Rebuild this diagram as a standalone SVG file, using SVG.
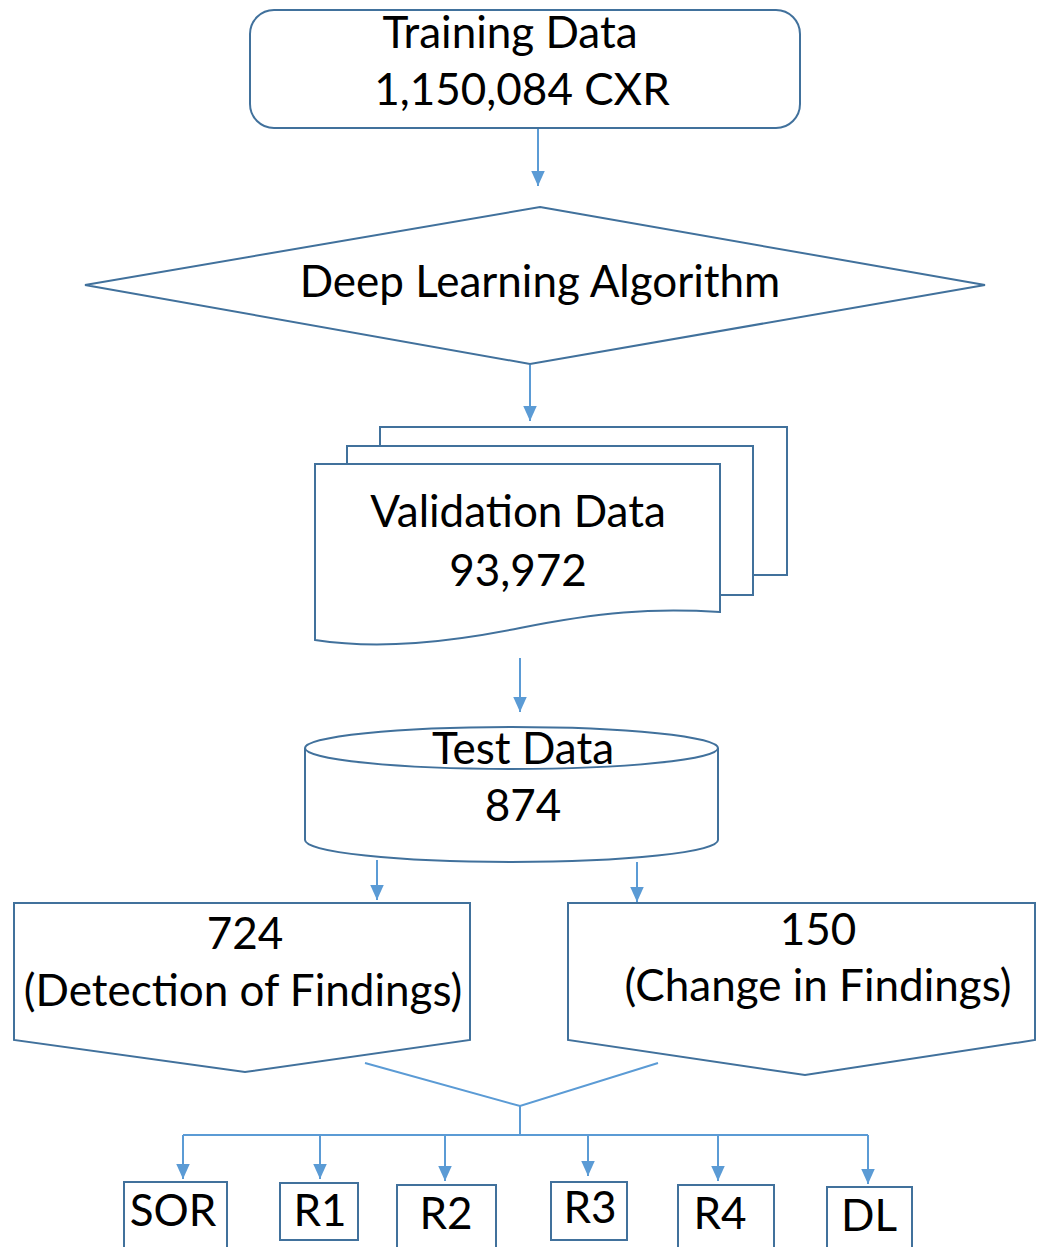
<svg xmlns="http://www.w3.org/2000/svg" width="1051" height="1247" viewBox="0 0 1051 1247">
<defs>
<style>
.shape{fill:#ffffff;stroke:#41719c;stroke-width:2}
.t{font-family:Lato,"Open Sans","Liberation Sans",sans-serif;font-size:44px;fill:#000;text-anchor:middle}
.c{fill:none;stroke:#5b9bd5;stroke-width:2}
</style>
<marker id="ah2" viewBox="0 0 10 10" refX="10" refY="5" markerWidth="15" markerHeight="15" markerUnits="userSpaceOnUse" orient="auto">
<path d="M0,0.5 L10,5 L0,9.5 z" fill="#5b9bd5"/>
</marker>
</defs>
<rect width="1051" height="1247" fill="#ffffff"/>
<g id="training">
<rect class="shape" x="250" y="10" width="550" height="118" rx="24"/>
<text class="t" x="510" y="48">Training Data</text>
<text class="t" x="522" y="105">1,150,084  CXR</text>
</g>
<g id="algorithm">
<polygon class="shape" points="540,207 985,285 530,364 85,285"/>
<text class="t" x="540" y="297">Deep Learning Algorithm</text>
</g>
<g id="validation">
<path class="shape" d="M380,427 H787 V575 H753 V446 H380 Z"/>
<path class="shape" d="M347,446 H753 V595 H720 V464 H347 Z"/>
<path class="shape" d="M315,464 H720 V612 C650,608 600,612 520,628 C450,642 380,650 315,640 Z"/>
<text class="t" x="518" y="527">Validation Data</text>
<text class="t" x="518" y="586">93,972</text>
</g>
<g id="test">
<path class="shape" d="M305,748 V840 A206.5,22 0 0 0 718,840 V748"/>
<ellipse class="shape" cx="511.5" cy="748" rx="206.5" ry="21"/>
<text class="t" x="523" y="764">Test Data</text>
<text class="t" x="523" y="821">874</text>
</g>
<g id="detection">
<polygon class="shape" points="14,903 470,903 470,1040 245,1072 14,1040"/>
<text class="t" x="245" y="949">724</text>
<text class="t" x="243" y="1006">(Detection of Findings)</text>
</g>
<g id="change">
<polygon class="shape" points="568,903 1035,903 1035,1040 805,1075 568,1040"/>
<text class="t" x="818" y="945">150</text>
<text class="t" x="818" y="1001">(Change in Findings)</text>
</g>
<g id="sor"><rect class="shape" x="124" y="1182" width="103" height="70"/><text class="t" x="173" y="1226">SOR</text></g>
<g id="r1"><rect class="shape" x="280" y="1183" width="78" height="57"/><text class="t" x="320" y="1226">R1</text></g>
<g id="r2"><rect class="shape" x="397" y="1185" width="99" height="70"/><text class="t" x="446" y="1229">R2</text></g>
<g id="r3"><rect class="shape" x="551" y="1182" width="76" height="58"/><text class="t" x="590" y="1223">R3</text></g>
<g id="r4"><rect class="shape" x="678" y="1185" width="96" height="70"/><text class="t" x="720" y="1229">R4</text></g>
<g id="dl"><rect class="shape" x="827" y="1187" width="85" height="70"/><text class="t" x="869" y="1231">DL</text></g>
<g id="connectors">
<line class="c" x1="538" y1="129" x2="538" y2="186" marker-end="url(#ah2)"/>
<line class="c" x1="530" y1="365" x2="530" y2="421" marker-end="url(#ah2)"/>
<line class="c" x1="520" y1="658" x2="520" y2="712" marker-end="url(#ah2)"/>
<line class="c" x1="377" y1="860" x2="377" y2="900" marker-end="url(#ah2)"/>
<line class="c" x1="637" y1="862" x2="637" y2="902" marker-end="url(#ah2)"/>
<polyline class="c" points="365,1063 520,1106 658,1063"/>
<line class="c" x1="520" y1="1106" x2="520" y2="1135"/>
<line class="c" x1="183" y1="1135" x2="868" y2="1135"/>
<line class="c" x1="183" y1="1135" x2="183" y2="1179" marker-end="url(#ah2)"/>
<line class="c" x1="320" y1="1135" x2="320" y2="1179" marker-end="url(#ah2)"/>
<line class="c" x1="445" y1="1135" x2="445" y2="1181" marker-end="url(#ah2)"/>
<line class="c" x1="588" y1="1135" x2="588" y2="1176" marker-end="url(#ah2)"/>
<line class="c" x1="718" y1="1135" x2="718" y2="1181" marker-end="url(#ah2)"/>
<line class="c" x1="868" y1="1135" x2="868" y2="1184" marker-end="url(#ah2)"/>
</g>
</svg>
